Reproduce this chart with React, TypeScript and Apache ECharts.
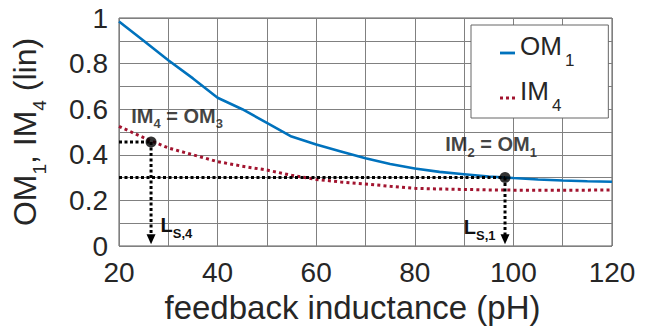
import React, { useEffect, useRef } from "react";
import * as echarts from "echarts";

// ---- data ----
const inductance = [20, 25, 30, 35, 40, 45, 50, 55, 60, 65, 70, 75, 80, 85, 90, 95, 100, 105, 110, 115, 120];
const om1 = [0.985, 0.9, 0.815, 0.735, 0.65, 0.6, 0.54, 0.48, 0.445, 0.415, 0.385, 0.36, 0.34, 0.325, 0.315, 0.305, 0.298, 0.292, 0.287, 0.284, 0.282];
const im4 = [0.525, 0.475, 0.43, 0.4, 0.37, 0.35, 0.333, 0.31, 0.292, 0.281, 0.272, 0.262, 0.253, 0.25, 0.248, 0.246, 0.245, 0.245, 0.245, 0.245, 0.246];

const xLabelStep = 20;
const yLabelStep = 0.2;

// annotation points (IM4 = OM3 crossing and IM2 = OM1 crossing)
const crossing4 = [26.5, 0.456];
const crossing1 = [98.3, 0.3];
const arrowEndY = 0.03;
const xStart = 20;

const FONT = "Liberation Sans, Arial, Helvetica, sans-serif";
const TXT = "#262626";

export default function App() {
  const ref = useRef<HTMLDivElement>(null);

  useEffect(() => {
    if (!ref.current) return;
    const chart = echarts.init(ref.current, undefined, { renderer: "svg" });

    const guideLine = { color: "#000", width: 3, type: [3, 2.5] as number[], cap: "butt" as const };
    const boldRich = {
      b: { fontSize: 20, fontWeight: "bold" as const, fontFamily: FONT, color: "#111", lineHeight: 22 },
      bs: { fontSize: 13, fontWeight: "bold" as const, fontFamily: FONT, color: "#111", lineHeight: 13, padding: [16, 0, 0, 0] },
    };

    chart.setOption({
      animation: false,
      textStyle: { fontFamily: FONT },
      grid: {
        left: 119,
        top: 18,
        width: 493,
        height: 228,
        containLabel: false,
        outerBoundsMode: "none",
        show: true,
        borderColor: "#5a5a5a",
        borderWidth: 1,
        backgroundColor: "transparent",
      },
      legend: {
        data: [
          { name: "OM1", icon: "path://M0,0H16V3H0Z" },
          { name: "IM4", icon: "path://M0,0H3V3H0Z M6,0H9V3H6Z M12,0H15V3H12Z" },
        ],
        orient: "vertical",
        left: 471,
        top: 25,
        padding: [8, 34, 0, 29],
        itemGap: 5,
        itemWidth: 15,
        itemHeight: 3,
        backgroundColor: "#fff",
        borderColor: "#666",
        borderWidth: 1,
        borderRadius: 0,
        formatter: (name: string) => (name === "OM1" ? "{m|OM}{s|1}" : "{m|IM}{s|4}"),
        textStyle: {
          color: TXT,
          rich: {
            m: { fontSize: 26, fontFamily: FONT, color: TXT, lineHeight: 26, padding: [0, 0, 14, 0] },
            s: { fontSize: 17, fontFamily: FONT, color: TXT, lineHeight: 17, padding: [14, 0, 0, 3] },
          },
        },
      },
      xAxis: {
        type: "value",
        min: 20,
        max: 120,
        interval: 10,
        name: "feedback inductance (pH)",
        nameLocation: "middle",
        nameGap: 40,
        nameTextStyle: { fontSize: 33, color: TXT, fontFamily: FONT, padding: [0, 26, 0, 0] },
        axisLine: { show: false },
        axisTick: { show: false },
        axisLabel: {
          fontSize: 28,
          color: TXT,
          margin: 12,
          formatter: (v: number) => (Math.round(v) % xLabelStep === 0 ? String(v) : ""),
        },
        splitLine: { show: true, lineStyle: { color: "#808080", width: 1 } },
      },
      yAxis: {
        type: "value",
        min: 0,
        max: 1,
        interval: 0.1,
        name: "{m|OM}{s|1}{m|, IM}{s|4}{m| (lin)}",
        nameLocation: "middle",
        nameRotate: 90,
        nameGap: 77,
        nameTextStyle: {
          rich: {
            m: { fontSize: 32, fontFamily: FONT, color: TXT, lineHeight: 34 },
            s: { fontSize: 19, fontFamily: FONT, color: TXT, lineHeight: 19, padding: [28, 0, 0, 0] },
          },
        },
        axisLine: { show: false },
        axisTick: { show: false },
        axisLabel: {
          fontSize: 28,
          color: TXT,
          margin: 11,
          formatter: (v: number) => {
            const k = Math.round(v * 10);
            return k % Math.round(yLabelStep * 10) === 0 ? String(k / 10) : "";
          },
        },
        splitLine: { show: true, lineStyle: { color: "#808080", width: 1 } },
      },
      series: [
        {
          name: "OM1",
          type: "line",
          data: inductance.map((x, i) => [x, om1[i]]),
          symbol: "none",
          lineStyle: { color: "#0072BD", width: 2.6 },
          itemStyle: { color: "#0072BD" },
          z: 3,
        },
        {
          name: "IM4",
          type: "line",
          data: inductance.map((x, i) => [x, im4[i]]),
          symbol: "none",
          lineStyle: { color: "#A2142F", width: 3, type: [3, 3.2], cap: "butt" },
          itemStyle: { color: "#A2142F" },
          z: 3,
        },
        {
          name: "guide4h",
          type: "line",
          data: [[xStart, crossing4[1]], [crossing4[0], crossing4[1]]],
          symbol: "none",
          lineStyle: guideLine,
          z: 4,
          silent: true,
        },
        {
          name: "guide1h",
          type: "line",
          data: [[xStart, crossing1[1]], [crossing1[0], crossing1[1]]],
          symbol: "none",
          lineStyle: guideLine,
          z: 4,
          silent: true,
        },
        {
          name: "guide4v",
          type: "line",
          symbol: "triangle",
          data: [
            { value: [crossing4[0], crossing4[1]], symbol: "none" },
            {
              value: [crossing4[0], arrowEndY],
              symbol: "triangle",
              symbolRotate: 180,
              symbolSize: [9, 10],
              label: {
                show: true,
                position: "right",
                offset: [0, -14],
                formatter: "{b|L}{bs|S,4}",
                rich: boldRich,
              },
            },
          ],
          lineStyle: guideLine,
          itemStyle: { color: "#000" },
          z: 4,
          silent: true,
        },
        {
          name: "guide1v",
          type: "line",
          symbol: "triangle",
          data: [
            { value: [crossing1[0], crossing1[1]], symbol: "none" },
            {
              value: [crossing1[0], arrowEndY],
              symbol: "triangle",
              symbolRotate: 180,
              symbolSize: [9, 10],
              label: {
                show: true,
                position: "left",
                offset: [0, -12],
                formatter: "{b|L}{bs|S,1}",
                rich: boldRich,
              },
            },
          ],
          lineStyle: guideLine,
          itemStyle: { color: "#000" },
          z: 4,
          silent: true,
        },
        {
          name: "crossings",
          type: "scatter",
          symbolSize: 11,
          itemStyle: { color: "#000" },
          z: 5,
          silent: true,
          data: [
            {
              value: crossing4,
              label: {
                show: true,
                position: "top",
                distance: 10,
                offset: [26, 0],
                formatter: "{b|IM}{bs|4}{b| = OM}{bs|3}",
                rich: boldRich,
              },
            },
            {
              value: crossing1,
              label: {
                show: true,
                position: "top",
                distance: 17,
                offset: [-14, 0],
                formatter: "{b|IM}{bs|2}{b| = OM}{bs|1}",
                rich: boldRich,
              },
            },
          ],
        },
      ],
    });

    return () => chart.dispose();
  }, []);

  return (
    <div
      ref={ref}
      style={{ position: "absolute", left: 0, top: 0, width: 648, height: 330, background: "#fff" }}
    />
  );
}
